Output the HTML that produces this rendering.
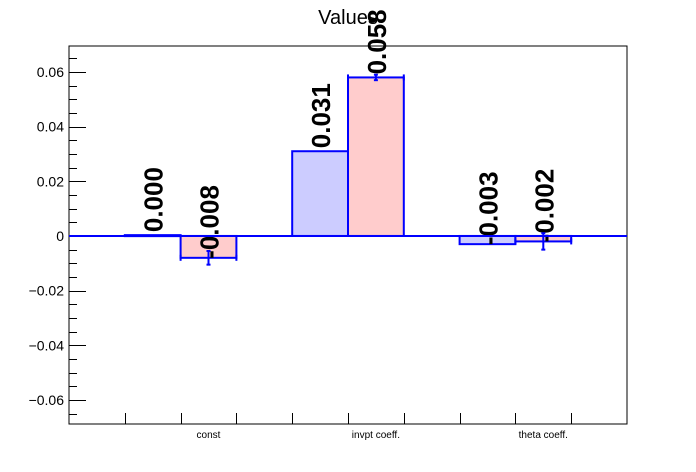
<!DOCTYPE html>
<html><head><meta charset="utf-8"><style>
body{margin:0;background:#fff;}
svg{display:block;font-family:"Liberation Sans",sans-serif;}
</style></head><body>
<svg id="chart" width="696" height="472"></svg>
<script>
const categories = ["const", "invpt coeff.", "theta coeff."];
const seriesA = [0.0003, 0.031, -0.003];
const seriesB = [-0.008, 0.058, -0.002];
const errB = [0.0025, 0.001, 0.003];
const labelsA = ["0.000", "0.031", "-0.003"];
const labelsB = ["-0.008", "0.058", "-0.002"];
const yTicks = [-0.06, -0.04, -0.02, 0, 0.02, 0.04, 0.06];
const yTickLabels = ["\u22120.06", "\u22120.04", "\u22120.02", "0", "0.02", "0.04", "0.06"];

const NS = "http://www.w3.org/2000/svg";
const svg = document.getElementById("chart");
const L = 69, R = 627, T = 46, B = 424;
const yMin = -0.0688, yMax = 0.0695;
const nBins = 10;
const bw = (R - L) / nBins;
function y(v) { return B - (v - yMin) / (yMax - yMin) * (B - T); }
function xBin(i) { return L + i * bw; }
function mk(tag, attrs, parent) {
  const e = document.createElementNS(NS, tag);
  for (const k in attrs) e.setAttribute(k, attrs[k]);
  (parent || svg).appendChild(e);
  return e;
}

const title = mk("text", {x: 348, y: 24, "text-anchor": "middle", "font-size": 20});
title.textContent = "Values";



const frame = mk("rect", {x: L, y: T, width: R - L, height: B - T, fill: "none", stroke: "#000", "stroke-width": 1});



const yAxis = mk("g", {});


for (let v = -0.065; v <= 0.0651; v += 0.005) {
  const major = Math.abs(Math.round(v * 1000) % 20) === 0;
  const yy = Math.round(y(v)) + 0.5;
  mk("line", {x1: L, x2: L + (major ? 17 : 8), y1: yy, y2: yy, stroke: "#000", "stroke-width": 1}, yAxis);
}
yTicks.forEach((v, i) => {
  const t = mk("text", {x: 64, y: y(v) + 5, "text-anchor": "end", "font-size": 14}, yAxis);
  t.textContent = yTickLabels[i];
  
  
});

const xAxis = mk("g", {});


for (let i = 1; i < nBins; i++) {
  const xx = Math.round(xBin(i)) + 0.5;
  mk("line", {x1: xx, x2: xx, y1: B, y2: B - 11, stroke: "#000", "stroke-width": 1}, xAxis);
}
categories.forEach((c, i) => {
  const t = mk("text", {x: xBin(3 * i + 2) + bw / 2, y: 438, "text-anchor": "middle", "font-size": 10}, xAxis);
  t.textContent = c;
  
  
});

function bar(val, bin, fill, label, name) {
  const g = mk("g", {});
  
  
  const x0 = xBin(bin), x1 = xBin(bin + 1);
  const y0 = y(0), yv = y(val);
  mk("rect", {x: x0, y: Math.min(y0, yv), width: x1 - x0, height: Math.max(Math.abs(yv - y0), 1), fill: fill, stroke: "#0000ff", "stroke-width": 2}, g);
  const cx = (x0 + x1) / 2;
  const base = Math.min(yv, y0) - 3 + (val < 0 ? Math.abs(yv - y0) + 4 : 0);
  const t = mk("text", {x: 0, y: 0, "font-size": 26, "font-weight": "bold", transform: `translate(${cx + 10},${base}) rotate(-90)`}, g);
  t.textContent = label;
  
  
  return g;
}
function errbar(val, err, bin) {
  const cx = (xBin(bin) + xBin(bin + 1)) / 2;
  const g = mk("g", {stroke: "#0000ff", "stroke-width": 2});
  
  
  mk("line", {x1: cx, x2: cx, y1: y(val + err), y2: y(val - err)}, g);
  mk("line", {x1: cx - 2, x2: cx + 2, y1: y(val + err), y2: y(val + err)}, g);
  mk("line", {x1: cx - 2, x2: cx + 2, y1: y(val - err), y2: y(val - err)}, g);
  mk("line", {x1: xBin(bin), x2: xBin(bin), y1: y(val) - 3, y2: y(val) + 3}, g);
  mk("line", {x1: xBin(bin + 1), x2: xBin(bin + 1), y1: y(val) - 3, y2: y(val) + 3}, g);
}
categories.forEach((c, i) => {
  bar(seriesA[i], 3 * i + 1, "#ccccff", labelsA[i], "bar-a-" + i);
  bar(seriesB[i], 3 * i + 2, "#ffcccc", labelsB[i], "bar-b-" + i);
  errbar(seriesB[i], errB[i], 3 * i + 2);
});

const zl = mk("line", {x1: L, x2: R, y1: y(0), y2: y(0), stroke: "#0000ff", "stroke-width": 2});


</script>
</body></html>
